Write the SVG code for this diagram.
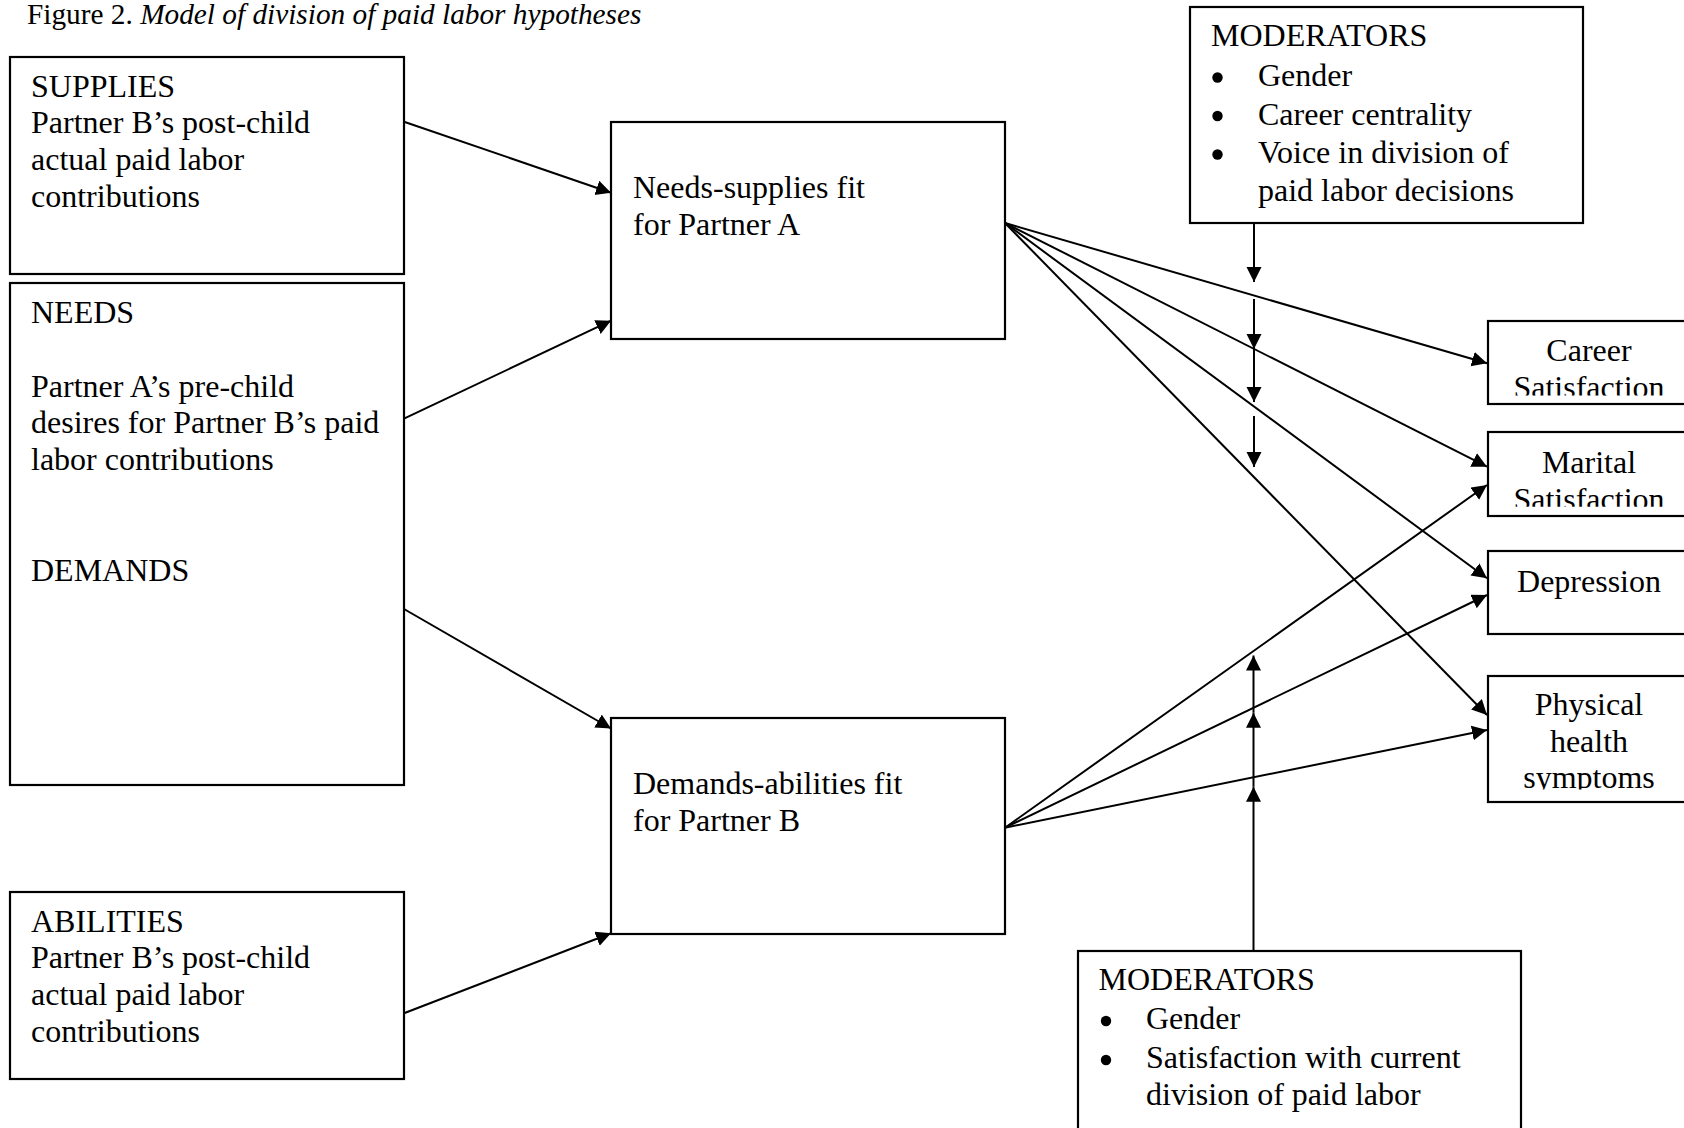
<svg xmlns="http://www.w3.org/2000/svg" width="1684" height="1128" viewBox="0 0 1684 1128">
<defs>
<style>
.box{fill:#fff;stroke:#000;stroke-width:2.2}
.t{font-family:"Liberation Serif","Times New Roman",serif;font-size:32px;fill:#000}
.c{text-anchor:middle}
.ln{stroke:#000;stroke-width:2;fill:none;marker-end:url(#ah)}
.dot{fill:#000}
</style>
<marker id="ah" markerUnits="userSpaceOnUse" markerWidth="16" markerHeight="16" refX="15" refY="7.5" orient="auto"><path d="M0,0 L15,7.5 L0,15 z" fill="#000"/></marker>
<clipPath id="clipCareer"><rect x="1488" y="321" width="220" height="74.5"/></clipPath>
<clipPath id="clipMarital"><rect x="1488" y="432" width="220" height="74.7"/></clipPath>
<clipPath id="clipPhysical"><rect x="1488" y="676" width="220" height="113.5"/></clipPath>
</defs>
<rect width="1684" height="1128" fill="#fff"/>
<text class="t" x="27" y="24" style="font-size:29.3px">Figure 2. <tspan font-style="italic">Model of division of paid labor hypotheses</tspan></text>

<g id="supplies">
<rect class="box" x="10" y="57" width="394" height="217"/>
<text class="t" x="31"><tspan x="31" y="96.7">SUPPLIES</tspan><tspan x="31" y="133.3">Partner B’s post-child</tspan><tspan x="31" y="170">actual paid labor</tspan><tspan x="31" y="206.7">contributions</tspan></text>
</g>
<g id="needs">
<rect class="box" x="10" y="283" width="394" height="502"/>
<text class="t" x="31"><tspan x="31" y="323">NEEDS</tspan><tspan x="31" y="396.6">Partner A’s pre-child</tspan><tspan x="31" y="433.4">desires for Partner B’s paid</tspan><tspan x="31" y="470.2">labor contributions</tspan><tspan x="31" y="580.6">DEMANDS</tspan></text>
</g>
<g id="abilities">
<rect class="box" x="10" y="892" width="394" height="187"/>
<text class="t" x="31"><tspan x="31" y="931.7">ABILITIES</tspan><tspan x="31" y="968.3">Partner B’s post-child</tspan><tspan x="31" y="1005">actual paid labor</tspan><tspan x="31" y="1041.7">contributions</tspan></text>
</g>
<g id="needs-supplies-fit">
<rect class="box" x="611" y="122" width="394" height="217"/>
<text class="t" x="633"><tspan x="633" y="198.3">Needs-supplies fit</tspan><tspan x="633" y="235">for Partner A</tspan></text>
</g>
<g id="demands-abilities-fit">
<rect class="box" x="611" y="718" width="394" height="216"/>
<text class="t" x="633"><tspan x="633" y="794.3">Demands-abilities fit</tspan><tspan x="633" y="831">for Partner B</tspan></text>
</g>
<g id="moderators-top">
<rect class="box" x="1190" y="7" width="393" height="216"/>
<text class="t" x="1211" y="46">MODERATORS</text>
<circle class="dot" cx="1217.5" cy="77.5" r="5.2"/>
<circle class="dot" cx="1217.5" cy="116" r="5.2"/>
<circle class="dot" cx="1217.5" cy="154.5" r="5.2"/>
<text class="t"><tspan x="1258" y="86">Gender</tspan><tspan x="1258" y="124.6">Career centrality</tspan><tspan x="1258" y="163">Voice in division of</tspan><tspan x="1258" y="200.6">paid labor decisions</tspan></text>
</g>
<g id="moderators-bottom">
<rect class="box" x="1078" y="951" width="443" height="250"/>
<text class="t" x="1098.5" y="990">MODERATORS</text>
<circle class="dot" cx="1106" cy="1021" r="5.2"/>
<circle class="dot" cx="1106" cy="1060" r="5.2"/>
<text class="t"><tspan x="1146" y="1029.3">Gender</tspan><tspan x="1146" y="1068.3">Satisfaction with current</tspan><tspan x="1146" y="1105">division of paid labor</tspan></text>
</g>
<g id="career-satisfaction">
<rect class="box" x="1488" y="321" width="250" height="83"/>
<text class="t c" clip-path="url(#clipCareer)"><tspan x="1589" y="361">Career</tspan><tspan x="1589" y="397.7">Satisfaction</tspan></text>
</g>
<g id="marital-satisfaction">
<rect class="box" x="1488" y="432" width="250" height="84"/>
<text class="t c" clip-path="url(#clipMarital)"><tspan x="1589" y="473.3">Marital</tspan><tspan x="1589" y="510">Satisfaction</tspan></text>
</g>
<g id="depression">
<rect class="box" x="1488" y="551" width="250" height="83"/>
<text class="t c" x="1589" y="591.7">Depression</text>
</g>
<g id="physical-health">
<rect class="box" x="1488" y="676" width="250" height="126"/>
<text class="t c" clip-path="url(#clipPhysical)"><tspan x="1589" y="715">Physical</tspan><tspan x="1589" y="751.7">health</tspan><tspan x="1589" y="788.4">symptoms</tspan></text>
</g>

<g id="connectors">
<line class="ln" x1="404" y1="121.7" x2="611" y2="192.7"/>
<line class="ln" x1="404" y1="418.7" x2="611" y2="320.7"/>
<line class="ln" x1="404" y1="609" x2="611" y2="728.5"/>
<line class="ln" x1="404" y1="1013.3" x2="611" y2="933.3"/>
<line class="ln" x1="1005" y1="223" x2="1487" y2="363.3"/>
<line class="ln" x1="1005" y1="223" x2="1487" y2="466.7"/>
<line class="ln" x1="1005" y1="223" x2="1487" y2="578.3"/>
<line class="ln" x1="1005" y1="223" x2="1487" y2="715"/>
<line class="ln" x1="1005" y1="827.7" x2="1487" y2="485"/>
<line class="ln" x1="1005" y1="827.7" x2="1487" y2="595"/>
<line class="ln" x1="1005" y1="827.7" x2="1487" y2="730"/>
<line class="ln" x1="1254" y1="223" x2="1254" y2="282"/>
<line class="ln" x1="1254" y1="299" x2="1254" y2="349"/>
<line class="ln" x1="1254" y1="349" x2="1254" y2="402"/>
<line class="ln" x1="1254" y1="416" x2="1254" y2="467"/>
<line class="ln" x1="1253.5" y1="951" x2="1253.5" y2="786.7"/>
<line class="ln" x1="1253.5" y1="786.7" x2="1253.5" y2="712.7"/>
<line class="ln" x1="1253.5" y1="712.7" x2="1253.5" y2="655.5"/>
</g>
</svg>
